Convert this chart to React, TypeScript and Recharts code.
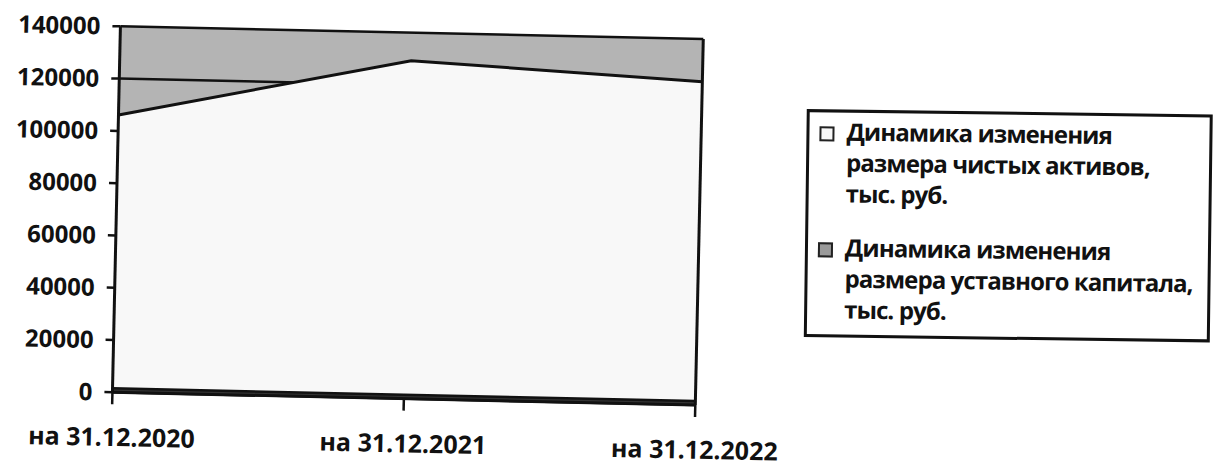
import { AreaChart, Area, XAxis, YAxis, CartesianGrid, Legend, ReferenceLine } from 'recharts'

// Scanned Excel chart: net assets vs charter capital, thousand rubles
const dates = ['на 31.12.2020', 'на 31.12.2021', 'на 31.12.2022']
const netAssets = [106100, 129300, 123700]
const charterCapital = [1500, 1500, 1500]
const yTicks = [0, 20000, 40000, 60000, 80000, 100000, 120000, 140000]

const legendLines = [
  ['Динамика изменения', 'размера чистых активов,', 'тыс. руб.'],
  ['Динамика изменения', 'размера уставного капитала,', 'тыс. руб.'],
]
const legendFills = ['#f8f8f8', '#9a9a9a']

const data = dates.map((d, i) => ({
  date: d,
  net: netAssets[i],
  capital: charterCapital[i],
}))

const FONT = '"Open Sans", sans-serif'

function ScanLegend() {
  return (
    <div
      style={{
        width: 406,
        height: 228,
        boxSizing: 'border-box',
        border: '3px solid #111',
        background: '#fff',
        padding: '3px 0 0 10px',
        transform: 'rotate(-0.5deg)',
        fontFamily: FONT,
        fontWeight: 700,
        fontSize: 24,
        letterSpacing: -0.9,
        color: '#111',
        textAlign: 'left',
      }}
    >
      {legendLines.map((lines, i) => (
        <div key={i} style={{ display: 'flex', marginBottom: i === 0 ? 23 : 0 }}>
          <div
            style={{
              width: 11,
              height: 11,
              border: '2px solid #222',
              background: legendFills[i],
              marginTop: 11,
              marginRight: 12,
              flexShrink: 0,
            }}
          />
          <div style={{ lineHeight: '31px' }}>
            {lines.map((l, j) => (
              <div key={j} style={{ whiteSpace: 'nowrap' }}>{l}</div>
            ))}
          </div>
        </div>
      ))}
    </div>
  )
}

export default function App() {
  return (
    <div
      style={{
        position: 'absolute',
        left: 0,
        top: 0,
        width: 1215,
        height: 468,
        background: '#fff',
        transform: 'rotate(1.25deg)',
        transformOrigin: '607px 234px',
      }}
    >
      <AreaChart
        width={1215}
        height={468}
        data={data}
        margin={{ top: 37, right: 516, left: 0, bottom: 0 }}
      >
        <CartesianGrid
          vertical={false}
          stroke="#111"
          strokeWidth={2.5}
          fill="#b4b4b4"
          fillOpacity={1}
        />
        <XAxis
          dataKey="date"
          height={65}
          axisLine={{ stroke: '#111', strokeWidth: 3 }}
          tickLine={{ stroke: '#111', strokeWidth: 2.5 }}
          tickSize={12}
          tickMargin={24}
          interval={0}
          tick={{ fill: '#111', fontSize: 25, fontWeight: 700, fontFamily: FONT }}
        />
        <YAxis
          width={116}
          domain={[0, 140000]}
          ticks={yTicks}
          interval={0}
          axisLine={{ stroke: '#111', strokeWidth: 3 }}
          tickLine={{ stroke: '#111', strokeWidth: 2.5 }}
          tickSize={8}
          tickMargin={12}
          tick={{ fill: '#111', fontSize: 24, fontWeight: 700, fontFamily: FONT }}
        />
        <Area
          type="linear"
          dataKey="net"
          name={legendLines[0].join(' ')}
          stroke="#111"
          strokeWidth={3}
          fill={legendFills[0]}
          fillOpacity={1}
          dot={false}
          activeDot={false}
          isAnimationActive={false}
        />
        <Area
          type="linear"
          dataKey="capital"
          name={legendLines[1].join(' ')}
          stroke="#111"
          strokeWidth={2.5}
          fill="#333"
          fillOpacity={1}
          dot={false}
          activeDot={false}
          isAnimationActive={false}
        />
        <ReferenceLine x={dates[2]} stroke="#111" strokeWidth={3} />
        <Legend
          layout="horizontal"
          align="center"
          verticalAlign="middle"
          content={() => <ScanLegend />}
          wrapperStyle={{ left: 805, top: 103, width: 406, height: 228 }}
        />
      </AreaChart>
    </div>
  )
}
